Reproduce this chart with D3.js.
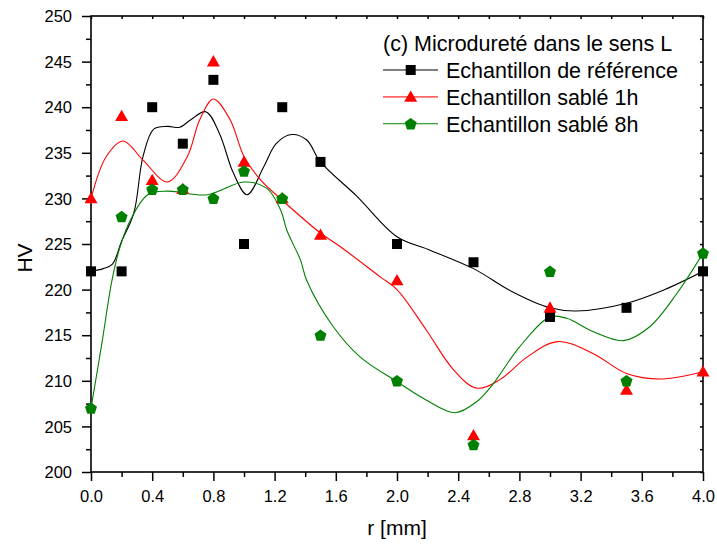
<!DOCTYPE html>
<html>
<head>
<meta charset="utf-8">
<script src="https://cdn.jsdelivr.net/npm/d3@7"></script>
<style>
  body { margin: 0; background: #fff; }
  svg { display: block; font-family: "Liberation Sans", Arial, sans-serif; }
</style>
</head>
<body>
<svg id="chart" width="717" height="545"></svg>
<script>
// ---- data ----
const rValues = [0, 0.2, 0.4, 0.6, 0.8, 1.0, 1.25, 1.5, 2.0, 2.5, 3.0, 3.5, 4.0];
const refValues = [222, 222, 240, 236, 243, 225, 240, 234, 225, 223, 217, 218, 222];
const sand1hValues = [230, 239, 232, 231, 245, 234, 230, 226, 221, 204, 218, 209, 211];
const sand8hValues = [207, 228, 231, 231, 230, 233, 230, 215, 210, 203, 222, 210, 224];

// smoothed fit curves: [r, HV]
const refFit = [[0,222],[0.08,222.3],[0.14,222.8],[0.2,225.3],[0.28,228.4],[0.34,234.6],[0.41,237.6],[0.5,237.9],[0.58,237.8],[0.65,238.6],[0.75,239.5],[0.84,237.1],[0.93,232.8],[1.02,230.4],[1.13,233.5],[1.21,236],[1.31,237],[1.41,236.4],[1.5,234],[1.74,230.2],[2.0,225.8],[2.22,224.3],[2.5,222.3],[2.75,219.8],[3.0,218],[3.17,217.65],[3.5,218.5],[3.75,220],[4.0,222]];
const sand1hFit = [[0,230],[0.1,234.6],[0.21,236.3],[0.34,234.2],[0.5,231.8],[0.63,234.6],[0.71,238.6],[0.8,240.9],[0.91,238.6],[1.0,234.6],[1.11,232],[1.25,229.8],[1.5,226.2],[1.63,224.7],[1.89,221.4],[2.0,220],[2.19,215.6],[2.37,211.2],[2.52,209.2],[2.67,210.1],[2.85,212.6],[3.05,214.3],[3.28,213],[3.5,210.8],[3.72,210.2],[4.0,211]];
const sand8hFit = [[0,207],[0.07,214],[0.137,221],[0.19,224.7],[0.257,227.6],[0.37,230.4],[0.5,230.8],[0.76,230.4],[1.0,231.8],[1.15,231.1],[1.24,228.7],[1.28,226.5],[1.37,223.2],[1.41,221],[1.585,215.9],[1.76,212.6],[2.0,209.9],[2.19,207.9],[2.38,206.5],[2.52,207.7],[2.63,209.7],[2.8,213.7],[3.0,217],[3.11,216.85],[3.28,215.4],[3.48,214.4],[3.65,215.9],[3.83,219.6],[4.0,224]];

const xMajorTicks = [0, 0.4, 0.8, 1.2, 1.6, 2.0, 2.4, 2.8, 3.2, 3.6, 4.0];
const yMajorTicks = [200, 205, 210, 215, 220, 225, 230, 235, 240, 245, 250];

const seriesNames = ["Echantillon de référence", "Echantillon sablé 1h", "Echantillon sablé 8h"];
const legendTitle = "(c) Microdureté dans le sens L";

// ---- layout ----
const svg = d3.select("#chart");
const L = 91, R = 703, T = 16, B = 472;
const x = d3.scaleLinear().domain([0, 4]).range([L, R]);
const y = d3.scaleLinear().domain([200, 250]).range([B, T]);

const series = [
  { name: seriesNames[0], vals: refValues, fit: refFit, color: "#000000", shape: "square" },
  { name: seriesNames[1], vals: sand1hValues, fit: sand1hFit, color: "#ff0000", shape: "triangle" },
  { name: seriesNames[2], vals: sand8hValues, fit: sand8hFit, color: "#008000", shape: "pentagon" }
];

function markerPath(shape) {
  if (shape === "square") return "M-5,-5H5V5H-5Z";
  if (shape === "triangle") return "M0,-6.5L6.5,4.8L-6.5,4.8Z";
  // pentagon
  const r = 6.3;
  const pts = d3.range(5).map(i => {
    const a = -Math.PI / 2 + i * 2 * Math.PI / 5;
    return [r * Math.cos(a), r * Math.sin(a) + 0.5];
  });
  return "M" + pts.map(p => p.join(",")).join("L") + "Z";
}

// ---- axes ----
const xMinor = d3.range(0.2, 4, 0.4);
const yMinor = d3.range(202.5, 250, 5);

const bottom = svg.append("g").attr("transform", `translate(0,${B})`)
  .call(d3.axisBottom(x).tickValues(xMajorTicks).tickFormat(d3.format(".1f")).tickSizeInner(9).tickSizeOuter(0));
svg.append("g").attr("transform", `translate(0,${B})`)
  .call(d3.axisBottom(x).tickValues(xMinor).tickFormat("").tickSizeInner(5).tickSizeOuter(0));
const left = svg.append("g").attr("transform", `translate(${L},0)`)
  .call(d3.axisLeft(y).tickValues(yMajorTicks).tickFormat(d3.format("d")).tickSizeInner(9).tickSizeOuter(0));
svg.append("g").attr("transform", `translate(${L},0)`)
  .call(d3.axisLeft(y).tickValues(yMinor).tickFormat("").tickSizeInner(5).tickSizeOuter(0));
// top & right mirrored inward ticks
svg.append("g").attr("transform", `translate(0,${T})`)
  .call(d3.axisTop(x).tickValues(xMajorTicks.concat(xMinor)).tickFormat("").tickSizeInner(-3).tickSizeOuter(0));
svg.append("g").attr("transform", `translate(${R},0)`)
  .call(d3.axisRight(y).tickValues(yMajorTicks.concat(yMinor)).tickFormat("").tickSizeInner(-3).tickSizeOuter(0));

svg.selectAll(".domain").remove();
svg.selectAll(".tick line").attr("stroke", "#000").attr("stroke-width", 1.5);
bottom.selectAll(".tick text").attr("font-size", 16.5).attr("fill", "#000").attr("dy", null).attr("y", 30);
left.selectAll(".tick text").attr("font-size", 16.5).attr("fill", "#000").attr("x", -19).attr("dy", "0.35em");

// frame
svg.append("rect").attr("x", L).attr("y", T).attr("width", R - L).attr("height", B - T)
  .attr("fill", "none").attr("stroke", "#000").attr("stroke-width", 1.6);

// axis titles
svg.append("text").attr("x", (L + R) / 2).attr("y", 535).attr("text-anchor", "middle")
  .attr("font-size", 21).text("r [mm]");
svg.append("text").attr("transform", "translate(32,258) rotate(-90)").attr("text-anchor", "middle")
  .attr("font-size", 21).text("HV");

// ---- fit curves ----
const line = d3.line().x(d => x(d[0])).y(d => y(d[1])).curve(d3.curveCatmullRom.alpha(0.5));
const clip = svg.append("clipPath").attr("id", "clip").append("rect")
  .attr("x", L).attr("y", T).attr("width", R - L).attr("height", B - T);
series.forEach(s => {
  svg.append("path").attr("d", line(s.fit)).attr("fill", "none")
    .attr("stroke", s.color).attr("stroke-width", 1.1).attr("clip-path", "url(#clip)");
});

// ---- markers ----
series.forEach(s => {
  svg.append("g").selectAll("path").data(rValues.map((r, i) => [r, s.vals[i]])).join("path")
    .attr("d", markerPath(s.shape))
    .attr("transform", d => `translate(${x(d[0])},${y(d[1])})`)
    .attr("fill", s.color);
});

// ---- legend ----
const lg = svg.append("g");
lg.append("text").attr("x", 383).attr("y", 51).attr("font-size", 21.5).text(legendTitle);
series.forEach((s, i) => {
  const ly = 70 + i * 26.9;
  lg.append("line").attr("x1", 383).attr("x2", 438).attr("y1", ly).attr("y2", ly)
    .attr("stroke", s.color).attr("stroke-width", i === 1 ? 1.6 : 1.1).attr("stroke-opacity", i === 1 ? 0.6 : 1);
  lg.append("path").attr("d", markerPath(s.shape)).attr("transform", `translate(410.7,${ly})`).attr("fill", s.color);
  lg.append("text").attr("x", 446).attr("y", ly + 8).attr("font-size", 21.5).text(s.name);
});
</script>
</body>
</html>
